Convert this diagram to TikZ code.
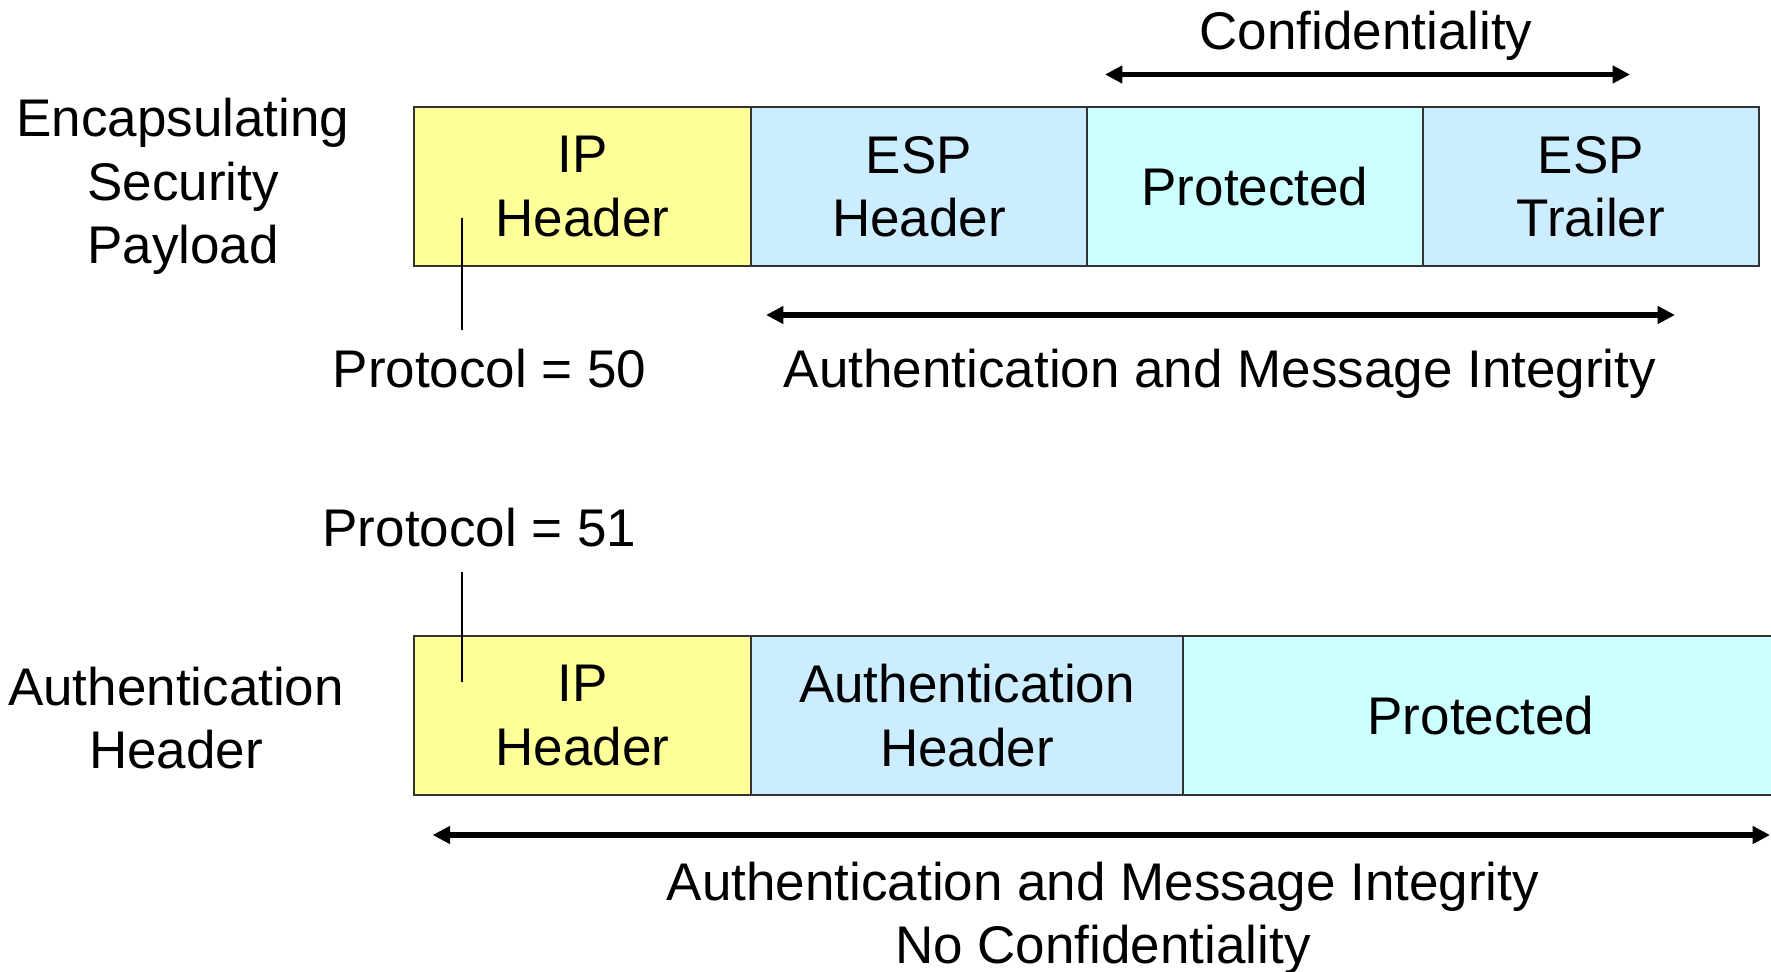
\documentclass[tikz,border=0pt]{standalone}
\usepackage{fontspec}
\setmainfont{Liberation Sans}
\usetikzlibrary{arrows.meta}

\definecolor{hdrYellow}{HTML}{FFFF99}
\definecolor{hdrBlue}{HTML}{CCECFF}
\definecolor{bodyCyan}{HTML}{CCFFFF}
\definecolor{edgeGray}{HTML}{333333}

\begin{document}
\begin{tikzpicture}[x=0.5pt,y=-0.5pt,
  every node/.style={font=\fontsize{26.5}{31.7}\selectfont, inner sep=0pt, outer sep=0pt},
  fieldbox/.style={draw=edgeGray, line width=0.7pt, align=center, minimum height=79.5pt},
  sidetext/.style={align=center},
  rangearrow/.style={line width=2.7pt,
    {Triangle[length=8.7pt,width=8.5pt]}-{Triangle[length=8.7pt,width=8.5pt]}},
  guide/.style={line width=1.35pt}]

\useasboundingbox (0,0) rectangle (1771,972);

% ---- ESP packet layout ----
\node[fieldbox, fill=hdrYellow, minimum width=168.5pt] (ipA) at (582.5,186.5) {IP\\Header};
\node[fieldbox, fill=hdrBlue, minimum width=168pt, anchor=west] (espH) at (ipA.east) {ESP\\Header};
\node[fieldbox, fill=bodyCyan, minimum width=168pt, anchor=west] (protA) at (espH.east) {Protected};
\node[fieldbox, fill=hdrBlue, minimum width=168pt, anchor=west] (espT) at (protA.east) {ESP\\Trailer};

\node[sidetext] (espName) at (183,186.5) {Encapsulating\\Security\\Payload};

\node[anchor=base] (conf) at (1366,50) {Confidentiality};
\coordinate (confL) at (1105,74.5);
\coordinate (confR) at (1630,74.5);
\draw[rangearrow] (confL) -- (confR);

\coordinate (amiL) at (766,315);
\coordinate (amiR) at (1675,315);
\draw[rangearrow] (amiL) -- (amiR);
\node[anchor=base] (amiA) at (1220,387.5) {Authentication and Message Integrity};

\node[anchor=base] (proto50) at (489.6,387.5) {Protocol = 50};
\coordinate (g50top) at (462,218);
\coordinate (g50bot) at (462,330);
\draw[guide] (g50top) -- (g50bot);

% ---- AH packet layout ----
\node[fieldbox, fill=hdrYellow, minimum width=168.5pt] (ipB) at (582.5,715.5) {IP\\Header};
\node[fieldbox, fill=hdrBlue, minimum width=216pt, anchor=west] (ahH) at (ipB.east) {Authentication\\Header};
\node[fieldbox, fill=bodyCyan, minimum width=298pt, anchor=west] (protB) at (ahH.east) {Protected};

\node[sidetext] (ahName) at (176,718) {Authentication\\Header};

\node[anchor=base] (proto51) at (479.5,546) {Protocol = 51};
\coordinate (g51top) at (462,571.5);
\coordinate (g51bot) at (462,682);
\draw[guide] (g51top) -- (g51bot);

\coordinate (ahL) at (432.6,835);
\coordinate (ahR) at (1770,835);
\draw[rangearrow] (ahL) -- (ahR);
\node[sidetext] (amiB) at (1103,918) {Authentication and Message Integrity\\No Confidentiality};

\end{tikzpicture}
\end{document}
